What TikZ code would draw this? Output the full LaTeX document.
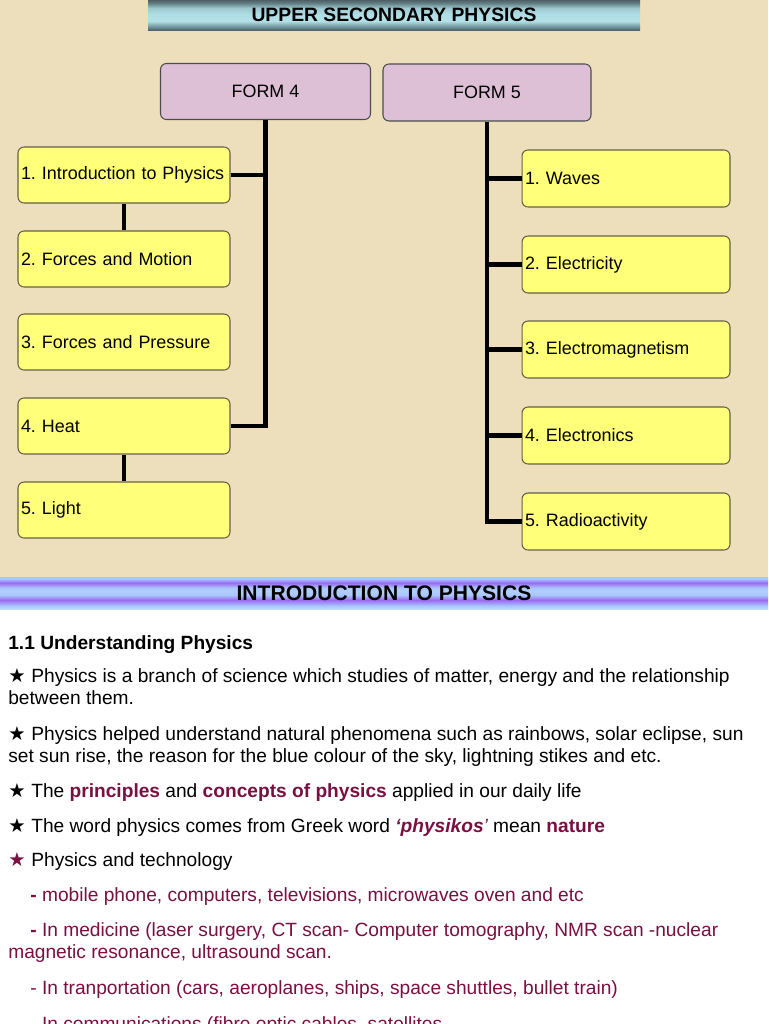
\documentclass[tikz,border=0pt]{standalone}
\usepackage{fontspec}
\setmainfont{Liberation Sans}
\newfontfamily\dejavu{DejaVu Sans}
\usepackage{tikz}

\definecolor{parch}{RGB}{238,223,188}
\definecolor{boxyellow}{RGB}{255,255,122}
\definecolor{formpink}{RGB}{221,192,214}
\definecolor{maroon}{RGB}{122,16,66}
\definecolor{stripeblue}{RGB}{168,200,252}
\definecolor{stripepurple}{RGB}{158,104,240}
\definecolor{bardark}{RGB}{66,86,92}
\definecolor{barmid}{RGB}{120,158,166}
\definecolor{barlight}{RGB}{176,222,230}
\definecolor{bartop}{RGB}{78,96,102}

\pgfdeclareverticalshading{titlebar}{100bp}{color(0bp)=(bardark); color(25bp)=(bardark);
  color(33bp)=(barmid); color(41bp)=(barlight!95!white); color(52bp)=(barlight);
  color(62bp)=(barlight!90!black); color(70bp)=(barmid!80!black); color(75bp)=(bartop); color(100bp)=(bartop)}
\pgfdeclareverticalshading{stripebar}{100bp}{color(0bp)=(stripeblue!70!white); color(25bp)=(stripeblue!70!white);
  color(30bp)=(stripeblue); color(39bp)=(stripepurple); color(47bp)=(stripeblue);
  color(53bp)=(stripeblue!90!white); color(58bp)=(stripeblue); color(66bp)=(stripepurple);
  color(72bp)=(stripeblue); color(75bp)=(stripeblue); color(100bp)=(stripeblue)}

\newcommand{\starsym}[1][black]{\makebox[0.46cm][l]{\textcolor{#1}{\dejavu\fontsize{11}{11}\selectfont ★}}}
\newcommand{\hl}[1]{\textcolor{maroon}{\bfseries #1}}

\begin{document}
\frenchspacing
\begin{tikzpicture}[x=0.02cm, y=-0.02cm,
    subject/.style={draw=black!70!yellow, fill=boxyellow, rounded corners=0.12cm, line width=0.6pt,
      minimum height=1.12cm, text width=4.12cm, inner xsep=0.06cm, align=left,
      font=\fontsize{10.2}{12}\selectfont},
    form/.style={draw=black!70, fill=formpink, rounded corners=0.12cm, line width=0.6pt,
      minimum width=4.2cm, minimum height=1.12cm, font=\fontsize{10.2}{12}\selectfont},
    bar/.style={line width=2.3pt, black},
    txt/.style={anchor=base west, inner sep=0pt, font=\fontsize{10.9}{12.5}\selectfont}]
    \useasboundingbox (0,0) rectangle (768,1024);
    \clip (0,0) rectangle (768,1024);

    % background and banners
    \fill[parch] (0,0) rectangle (768,577);
    \fill[white] (0,577) rectangle (768,1024);
    \shade[shading=titlebar] (148,0) rectangle (640,31);
    \node[font=\fontsize{11}{12}\selectfont\bfseries] (title) at (394,15) {UPPER SECONDARY PHYSICS};
    \shade[shading=stripebar] (0,577) rectangle (768,609);
    \node[font=\fontsize{12}{13}\selectfont\bfseries] (intro) at (384,593) {INTRODUCTION TO PHYSICS};

    % form 4
    \node[form] (f4) at (265.5,91.5) {FORM 4};
    \node[subject] (b1) at (124,175) {1. Introduction to Physics};
    \node[subject] (b2) at (124,259) {2. Forces and Motion};
    \node[subject] (b3) at (124,342) {3. Forces and Pressure};
    \node[subject] (b4) at (124,426) {4. Heat};
    \node[subject] (b5) at (124,510) {5. Light};
    \draw[bar] (f4.south) -- (f4.south |- b4.east) -- (b4.east);
    \draw[bar] (b1.east) -- (b1.east -| f4.south);
    \draw[bar] (b1) -- (b2);
    \draw[bar] (b4) -- (b5);

    % form 5
    \node[form, minimum width=4.16cm, minimum height=1.14cm] (f5) at (487,92.5) {FORM 5};
    \node[subject, text width=4.04cm, minimum height=1.14cm] (r1) at (626,178.5) {1. Waves};
    \node[subject, text width=4.04cm, minimum height=1.14cm] (r2) at (626,264.5) {2. Electricity};
    \node[subject, text width=4.04cm, minimum height=1.14cm] (r3) at (626,349.5) {3. Electromagnetism};
    \node[subject, text width=4.04cm, minimum height=1.14cm] (r4) at (626,435.5) {4. Electronics};
    \node[subject, text width=4.04cm, minimum height=1.14cm] (r5) at (626,521.5) {5. Radioactivity};
    \draw[bar] (f5.south) -- (f5.south |- r5.west) -- (r5.west);
    \foreach \r in {r1,r2,r3,r4}
        \draw[bar] (\r.west -| f5.south) -- (\r.west);

    % notes
    \node[txt, font=\fontsize{10.9}{12.5}\selectfont\bfseries] (head) at (8,649) {1.1 Understanding Physics};
    \node[txt] (n1) at (8,682) {\starsym Physics is a branch of science which studies of matter, energy and the relationship};
    \node[txt] (n1b) at (8,704) {between them.};
    \node[txt] (n2) at (8,740) {\starsym Physics helped understand natural phenomena such as rainbows, solar eclipse, sun};
    \node[txt] (n2b) at (8,762) {set sun rise, the reason for the blue colour of the sky, lightning stikes and etc.};
    \node[txt] (n3) at (8,797) {\starsym The \hl{principles} and \hl{concepts of physics} applied in our daily life};
    \node[txt] (n4) at (8,832) {\starsym The word physics comes from Greek word \hl{\itshape `physikos}\textcolor{maroon}{\itshape '} mean \hl{nature}};
    \node[txt] (n5) at (8,866) {\starsym[maroon]Physics and technology};
    \node[txt, text=maroon] (s1) at (30,901) {\textbf{-} mobile phone, computers, televisions, microwaves oven and etc};
    \node[txt, text=maroon] (s2) at (30,936) {\textbf{-} In medicine (laser surgery, CT scan- Computer tomography, NMR scan -nuclear};
    \node[txt, text=maroon] (s2b) at (8,958) {magnetic resonance, ultrasound scan.};
    \node[txt, text=maroon] (s3) at (30,994) {- In tranportation (cars, aeroplanes, ships, space shuttles, bullet train)};
    \node[txt, text=maroon] (s4) at (30,1030) {- In communications (fibre optic cables, satellites};
\end{tikzpicture}
\end{document}
